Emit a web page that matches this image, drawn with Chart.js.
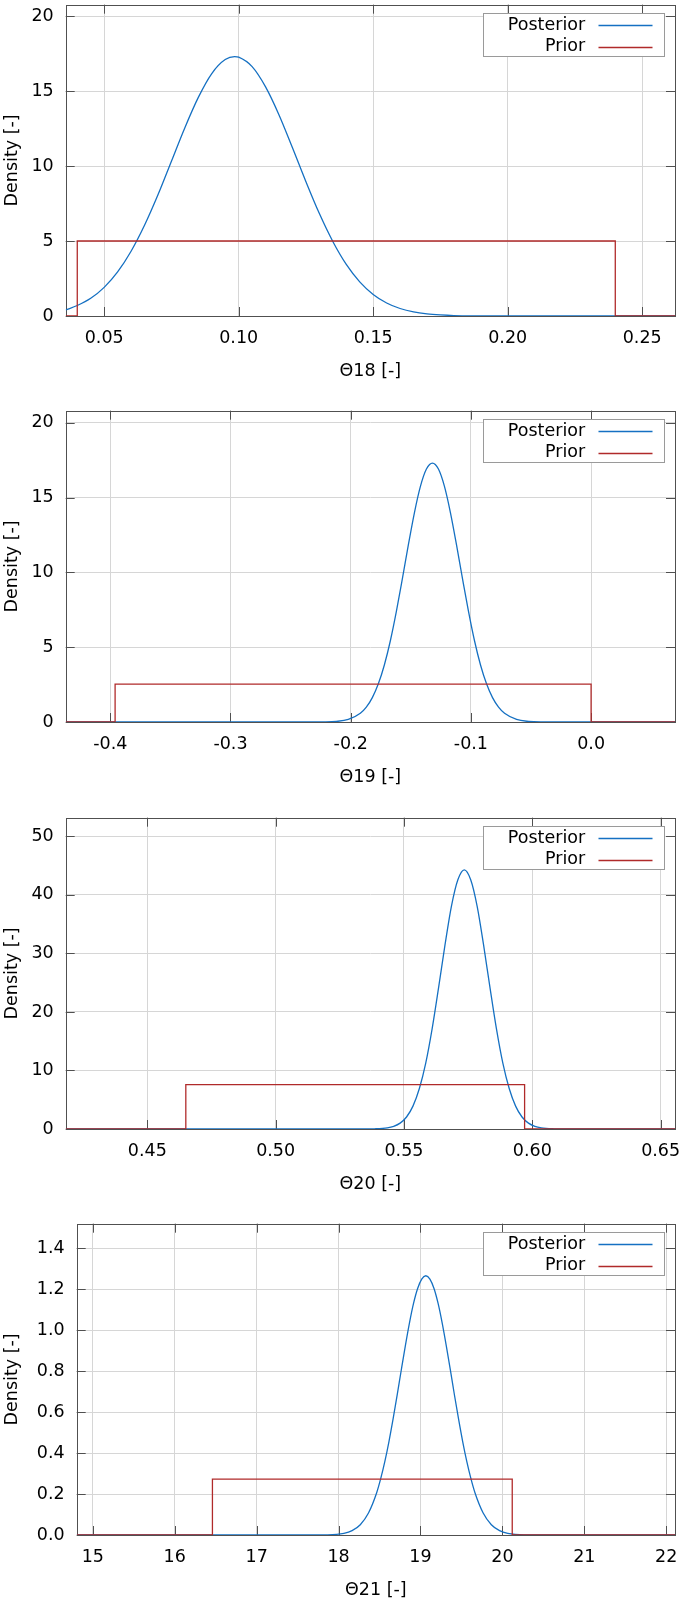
<!DOCTYPE html>
<html>
<head>
<meta charset="utf-8">
<script src="https://cdn.jsdelivr.net/npm/chart.js@4.4.0/dist/chart.umd.min.js"></script>
<style>
  html, body { margin: 0; padding: 0; background: #fff; overflow: hidden; }
  .panel { position: absolute; left: 0; width: 685px; height: 385px; }
</style>
</head>
<body>
<div class="panel" style="top:0px"><canvas id="c18" width="685" height="385"></canvas></div>
<div class="panel" style="top:406px"><canvas id="c19" width="685" height="385"></canvas></div>
<div class="panel" style="top:812.6px"><canvas id="c20" width="685" height="385"></canvas></div>
<div class="panel" style="top:1219.3px"><canvas id="c21" width="685" height="385"></canvas></div>
<script>
// --- Θ18 ---
const post18X = [0.0357, 0.04, 0.045, 0.05, 0.055, 0.06, 0.065, 0.07, 0.075, 0.08, 0.085, 0.09, 0.095, 0.0985, 0.10, 0.105, 0.11, 0.115, 0.12, 0.125, 0.13, 0.135, 0.14, 0.145, 0.15, 0.155, 0.16, 0.165, 0.17, 0.175, 0.18, 0.19, 0.20, 0.22, 0.2622]
const post18Y = [0.40, 0.70, 1.18, 1.91, 2.94, 4.32, 6.05, 8.08, 10.32, 12.56, 14.58, 16.17, 17.10, 17.30, 17.26, 16.63, 15.28, 13.41, 11.22, 8.96, 6.83, 4.97, 3.44, 2.28, 1.44, 0.87, 0.50, 0.27, 0.14, 0.07, 0.03, 0.01, 0, 0, 0]
const prior18X = [0.0357, 0.04, 0.04, 0.24, 0.24, 0.2622]
const prior18Y = [0, 0, 5, 5, 0, 0]
const xTicks18 = [0.05, 0.10, 0.15, 0.20, 0.25]
const yTicks18 = [0, 5, 10, 15, 20]

// --- Θ19 ---
const post19X = [-0.437, -0.25, -0.222, -0.212, -0.202, -0.192, -0.187, -0.182, -0.177, -0.172, -0.167, -0.162, -0.157, -0.152, -0.147, -0.142, -0.137, -0.132, -0.127, -0.122, -0.117, -0.112, -0.107, -0.102, -0.097, -0.092, -0.087, -0.082, -0.077, -0.072, -0.062, -0.052, -0.042, 0.0698]
const post19Y = [0, 0, 0.01, 0.04, 0.17, 0.58, 0.99, 1.63, 2.55, 3.81, 5.43, 7.39, 9.58, 11.85, 13.98, 15.74, 16.9, 17.3, 16.9, 15.74, 13.98, 11.85, 9.58, 7.39, 5.43, 3.81, 2.55, 1.63, 0.99, 0.58, 0.17, 0.04, 0.01, 0]
const prior19X = [-0.4371, -0.396, -0.396, 0.0, 0.0, 0.0698]
const prior19Y = [0, 0, 2.525, 2.525, 0, 0]
const xTicks19 = [-0.4, -0.3, -0.2, -0.1, 0.0]
const yTicks19 = [0, 5, 10, 15, 20]

// --- Θ20 ---
const post20X = [0.4182, 0.52, 0.5335, 0.5385, 0.5435, 0.546, 0.5485, 0.551, 0.5535, 0.556, 0.5585, 0.561, 0.5635, 0.566, 0.5685, 0.571, 0.5735, 0.576, 0.5785, 0.581, 0.5835, 0.586, 0.5885, 0.591, 0.5935, 0.596, 0.5985, 0.601, 0.6035, 0.6085, 0.6135, 0.6556]
const post20Y = [0, 0, 0, 0.03, 0.19, 0.45, 1.00, 2.05, 3.91, 6.92, 11.3, 17.2, 24.2, 31.5, 38.1, 42.6, 44.3, 42.6, 38.1, 31.5, 24.2, 17.2, 11.3, 6.92, 3.91, 2.05, 1.00, 0.45, 0.19, 0.03, 0, 0]
const prior20X = [0.4182, 0.465, 0.465, 0.597, 0.597, 0.6556]
const prior20Y = [0, 0, 7.6, 7.6, 0, 0]
const xTicks20 = [0.45, 0.50, 0.55, 0.60, 0.65]
const yTicks20 = [0, 10, 20, 30, 40, 50]

// --- Θ21 ---
const post21X = [14.803, 17.5, 17.865, 18.065, 18.165, 18.265, 18.365, 18.465, 18.515, 18.565, 18.615, 18.665, 18.715, 18.765, 18.815, 18.865, 18.915, 18.965, 19.015, 19.065, 19.115, 19.165, 19.215, 19.265, 19.315, 19.365, 19.415, 19.465, 19.515, 19.565, 19.615, 19.665, 19.765, 19.865, 19.965, 20.065, 20.265, 22.107]
const post21Y = [0, 0, 0.001, 0.008, 0.021, 0.050, 0.107, 0.206, 0.276, 0.359, 0.456, 0.565, 0.682, 0.804, 0.923, 1.034, 1.130, 1.203, 1.249, 1.265, 1.249, 1.203, 1.130, 1.034, 0.923, 0.804, 0.682, 0.565, 0.456, 0.359, 0.276, 0.206, 0.107, 0.050, 0.021, 0.008, 0.001, 0]
const prior21X = [14.803, 16.46, 16.46, 20.12, 20.12, 22.107]
const prior21Y = [0, 0, 0.273, 0.273, 0, 0]
const xTicks21 = [15, 16, 17, 18, 19, 20, 21, 22]
const yTicks21 = [0, 0.2, 0.4, 0.6, 0.8, 1.0, 1.2, 1.4]

const BLUE = '#1570c2'
const RED = '#b02a2a'
const FONT = "'DejaVu Sans', sans-serif"
const FS = 17.5

Chart.defaults.font.family = FONT
Chart.defaults.font.size = FS
Chart.defaults.color = '#000'

const pts = (xs, ys) => xs.map((v, i) => ({ x: v, y: ys[i] }))
const crisp = (v) => Math.round(v) + 0.5

// border, inward tick marks and the legend box
const frame = {
  id: 'frame',
  beforeDatasetsDraw(chart) {
    const { ctx, chartArea: a, scales: { x, y } } = chart
    ctx.save()
    ctx.strokeStyle = '#505050'
    ctx.lineWidth = 1
    ctx.beginPath()
    x.ticks.forEach((t) => {
      const px = crisp(x.getPixelForValue(t.value))
      ctx.moveTo(px, a.bottom); ctx.lineTo(px, a.bottom - 9)
      ctx.moveTo(px, a.top); ctx.lineTo(px, a.top + 9)
    })
    y.ticks.forEach((t) => {
      const py = crisp(y.getPixelForValue(t.value))
      ctx.moveTo(a.left, py); ctx.lineTo(a.left + 9, py)
      ctx.moveTo(a.right, py); ctx.lineTo(a.right - 9, py)
    })
    ctx.stroke()
    ctx.strokeRect(crisp(a.left), crisp(a.top), Math.round(a.right - a.left), Math.round(a.bottom - a.top))
    ctx.restore()
  },
  afterDraw(chart) {
    const { ctx, chartArea: a } = chart
    const bx = Math.round(a.right - 191.7) + 0.5
    const by = Math.round(a.top + 8.6) + 0.5
    ctx.save()
    ctx.fillStyle = '#fff'
    ctx.fillRect(bx, by, 181, 43)
    ctx.strokeStyle = '#9a9a9a'
    ctx.lineWidth = 1
    ctx.strokeRect(bx, by, 181, 43)
    ctx.font = FS + 'px ' + FONT
    ctx.textAlign = 'right'
    ctx.textBaseline = 'middle'
    chart.data.datasets.forEach((ds, i) => {
      const ry = by + 11.5 + i * 21.7
      ctx.fillStyle = '#000'
      ctx.fillText(ds.label, bx + 101.7, ry)
      ctx.strokeStyle = ds.borderColor
      ctx.lineWidth = 1.3
      ctx.beginPath()
      ctx.moveTo(bx + 115, Math.round(ry) + 0.5)
      ctx.lineTo(bx + 169, Math.round(ry) + 0.5)
      ctx.stroke()
    })
    ctx.restore()
  },
}

function makePanel(id, p) {
  new Chart(document.getElementById(id), {
    type: 'line',
    data: {
      datasets: [
        {
          label: 'Posterior',
          data: pts(p.postX, p.postY),
          borderColor: BLUE,
          borderWidth: 1.3,
          pointRadius: 0,
          cubicInterpolationMode: 'monotone',
          order: 1,
        },
        {
          label: 'Prior',
          data: pts(p.priorX, p.priorY),
          borderColor: RED,
          borderWidth: 1.3,
          pointRadius: 0,
          tension: 0,
          order: 0,
        },
      ],
    },
    options: {
      responsive: false,
      animation: false,
      events: [],
      layout: { padding: { top: 4.7, right: 10, bottom: 3, left: 0 } },
      plugins: { legend: { display: false }, tooltip: { enabled: false } },
      scales: {
        x: {
          type: 'linear',
          min: p.xMin,
          max: p.xMax,
          afterBuildTicks: (s) => { s.ticks = p.xTicks.map((v) => ({ value: v })) },
          afterFit: (s) => { s.paddingLeft = 0; s.paddingRight = 0 },
          ticks: { padding: 12, maxRotation: 0, autoSkip: false, callback: (v) => v.toFixed(p.xDec) },
          grid: { color: '#d6d6d6', drawTicks: false },
          border: { display: false },
          title: { display: true, text: p.xTitle, padding: { top: 0, bottom: 0 } },
        },
        y: {
          min: 0,
          max: p.yMax,
          afterBuildTicks: (s) => { s.ticks = p.yTicks.map((v) => ({ value: v })) },
          afterFit: (s) => { s.width = p.left; s.paddingTop = 0; s.paddingBottom = 0 },
          ticks: { padding: 12, autoSkip: false, callback: (v) => v.toFixed(p.yDec) },
          grid: { color: '#d6d6d6', drawTicks: false },
          border: { display: false },
          title: { display: true, text: 'Density [-]', padding: { top: 1.5, bottom: 0 } },
        },
      },
    },
    plugins: [frame],
  })
}

makePanel('c18', {
  postX: post18X, postY: post18Y, priorX: prior18X, priorY: prior18Y,
  xTicks: xTicks18, yTicks: yTicks18, xDec: 2, yDec: 0,
  xMin: 0.0357, xMax: 0.2622, yMax: 20.76, left: 65.7, xTitle: 'Θ18 [-]',
})
makePanel('c19', {
  postX: post19X, postY: post19Y, priorX: prior19X, priorY: prior19Y,
  xTicks: xTicks19, yTicks: yTicks19, xDec: 1, yDec: 0,
  xMin: -0.4371, xMax: 0.0698, yMax: 20.8, left: 65.7, xTitle: 'Θ19 [-]',
})
makePanel('c20', {
  postX: post20X, postY: post20Y, priorX: prior20X, priorY: prior20Y,
  xTicks: xTicks20, yTicks: yTicks20, xDec: 2, yDec: 0,
  xMin: 0.4182, xMax: 0.6556, yMax: 53.2, left: 65.7, xTitle: 'Θ20 [-]',
})
makePanel('c21', {
  postX: post21X, postY: post21Y, priorX: prior21X, priorY: prior21Y,
  xTicks: xTicks21, yTicks: yTicks21, xDec: 0, yDec: 1,
  xMin: 14.803, xMax: 22.107, yMax: 1.519, left: 76.7, xTitle: 'Θ21 [-]',
})
</script>
</body>
</html>
